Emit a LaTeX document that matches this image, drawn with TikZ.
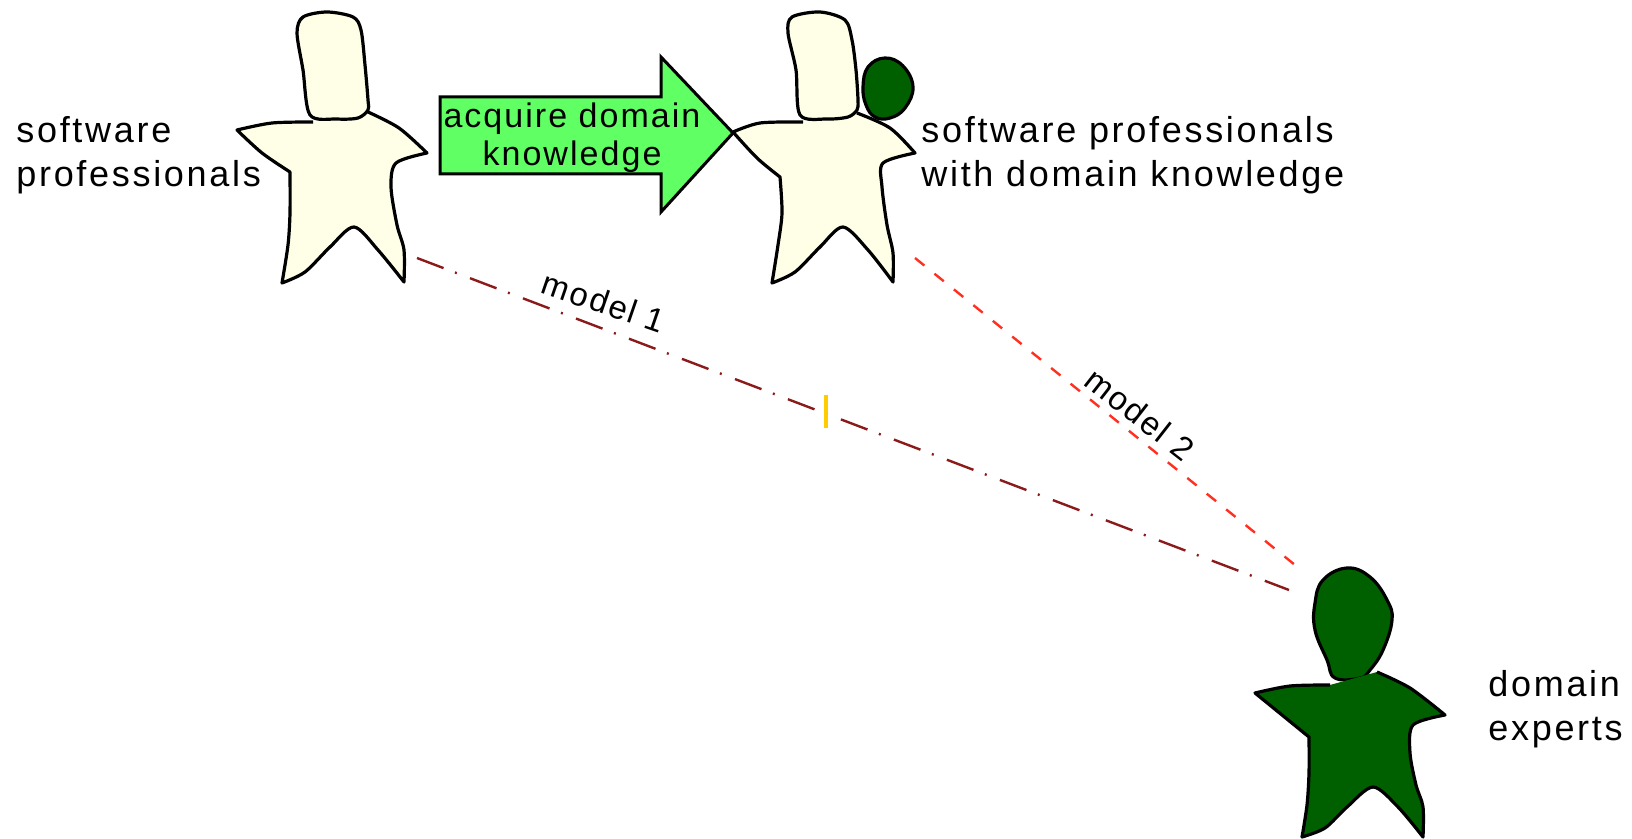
\documentclass[tikz,border=0pt]{standalone}
\usepackage{fontspec}
\setmainfont[LetterSpace=7.5]{Liberation Sans}
\newfontfamily\tightfont[LetterSpace=6]{Liberation Sans}
\definecolor{cream}{HTML}{FFFFE8}
\definecolor{expert}{HTML}{006000}
\definecolor{arrowgreen}{HTML}{60FF64}
\definecolor{modelone}{HTML}{8B1A1A}
\definecolor{modeltwo}{HTML}{FF3020}
\definecolor{tick}{HTML}{FFCC00}
\tikzset{
  shape line/.style={draw=black,line width=1.6pt,line join=round},
  label text/.style={font=\fontsize{18pt}{22pt}\selectfont,align=left,inner sep=0pt,anchor=west},
  link text/.style={font=\tightfont\fontsize{16.5pt}{20pt}\selectfont,inner sep=0pt},
  model one line/.style={draw=modelone,line width=1.2pt,dash pattern=on 14.2pt off 6.1pt on 1pt off 7.05pt},
  model two line/.style={draw=modeltwo,line width=1.2pt,dash pattern=on 6pt off 6.5pt},
}
\begin{document}
\begin{tikzpicture}[x=0.5pt,y=-0.5pt]
\useasboundingbox (0,0) rectangle (1632,839);
% person 1
\draw[shape line,fill=cream] plot[smooth,tension=.5] coordinates{(368,112)(399,128)(427,153)} -- plot[smooth,tension=.5] coordinates{(427,153)(396,163)(391,187)(397,225)(404,250)(404,282)} -- plot[smooth,tension=.5] coordinates{(404,282)(378,250)(354,227)(330,247)(305,272)(282,283)} -- plot[smooth,tension=.5] coordinates{(282,283)(288,245)(290,213)(290,172)} -- plot[smooth,tension=.5] coordinates{(290,172)(262,153)(237,130)} -- plot[smooth,tension=.5] coordinates{(237,130)(272,123)(313,122)};
\draw[shape line,fill=cream] plot[smooth cycle,tension=.5] coordinates{(310,115)(303,70)(297,33)(303,17)(327,12)(353,17)(361,30)(365,65)(368,100)(368,110)(358,118)(337,119)};
% person 2
\draw[shape line,fill=cream] plot[smooth,tension=.5] coordinates{(857,113)(890,128)(915,153)} -- plot[smooth,tension=.5] coordinates{(915,153)(883,163)(882,187)(887,225)(893,253)(893,282)} -- plot[smooth,tension=.5] coordinates{(893,282)(868,250)(843,227)(820,247)(795,272)(772,283)} -- plot[smooth,tension=.5] coordinates{(772,283)(778,245)(782,213)(780,177)} -- plot[smooth,tension=.5] coordinates{(780,177)(757,158)(733,132)} -- plot[smooth,tension=.5] coordinates{(733,132)(760,123)(803,122)};
\draw[shape line,fill=cream] plot[smooth cycle,tension=.5] coordinates{(800,115)(796,70)(788,33)(792,17)(820,12)(845,20)(852,40)(856,70)(858,100)(857,110)(848,117)(827,119)};
\draw[shape line,fill=expert] plot[smooth cycle,tension=.7] coordinates{(863,87)(868,67)(885,58)(903,66)(913,87)(905,108)(890,118)(875,117)(866,105)};
% person 3
\draw[shape line,fill=expert] plot[smooth cycle,tension=.7] coordinates{(1347,568)(1370,577)(1387,600)(1392,620)(1383,650)(1370,670)(1360,678)(1335,678)(1327,660)(1315,630)(1315,603)(1323,580)};
\draw[shape line,fill=expert] plot[smooth,tension=.5] coordinates{(1377,672)(1410,688)(1445,715)} -- plot[smooth,tension=.5] coordinates{(1445,715)(1413,725)(1410,753)(1416,785)(1423,807)(1423,837)} -- plot[smooth,tension=.5] coordinates{(1423,837)(1398,807)(1373,787)(1347,807)(1325,828)(1302,837)} -- plot[smooth,tension=.5] coordinates{(1302,837)(1307,805)(1309,773)(1309,737)} -- plot[smooth,tension=.5] coordinates{(1309,737)(1282,715)(1255,693)} -- plot[smooth,tension=.5] coordinates{(1255,693)(1290,686)(1330,685)};
% arrow
\draw[fill=arrowgreen,draw=black,line width=1.5pt,line join=miter] (440,97)--(661,97)--(661,57)--(733,133)--(661,212)--(661,174)--(440,174)--cycle;
\node[font=\tightfont\fontsize{17pt}{19pt}\selectfont,align=center,inner sep=0pt] (acquire) at (572,138) {acquire domain\\knowledge};
% labels
\node[label text] (softpro) at (16,155) {software\\professionals};
\node[label text] (softdom) at (921,155) {software professionals\\with domain knowledge};
\node[label text] (experts) at (1488,709) {domain\\experts};
% connectors
\coordinate (m1a) at (417,258);
\coordinate (m1b) at (1289,590);
\coordinate (m2a) at (915,258);
\coordinate (m2b) at (1295,565);
\draw[model one line] (m1a) -- (m1b);
\draw[model two line] (m2a) -- (m2b);
\coordinate (ticka) at (826,395);
\coordinate (tickb) at (826,428);
\draw[tick,line width=2.1pt] (ticka) -- (tickb);
\node[link text,rotate=-19] (model1) at (604,302) {model 1};
\node[link text,rotate=-38] (model2) at (1140,414) {model 2};
\end{tikzpicture}
\end{document}
